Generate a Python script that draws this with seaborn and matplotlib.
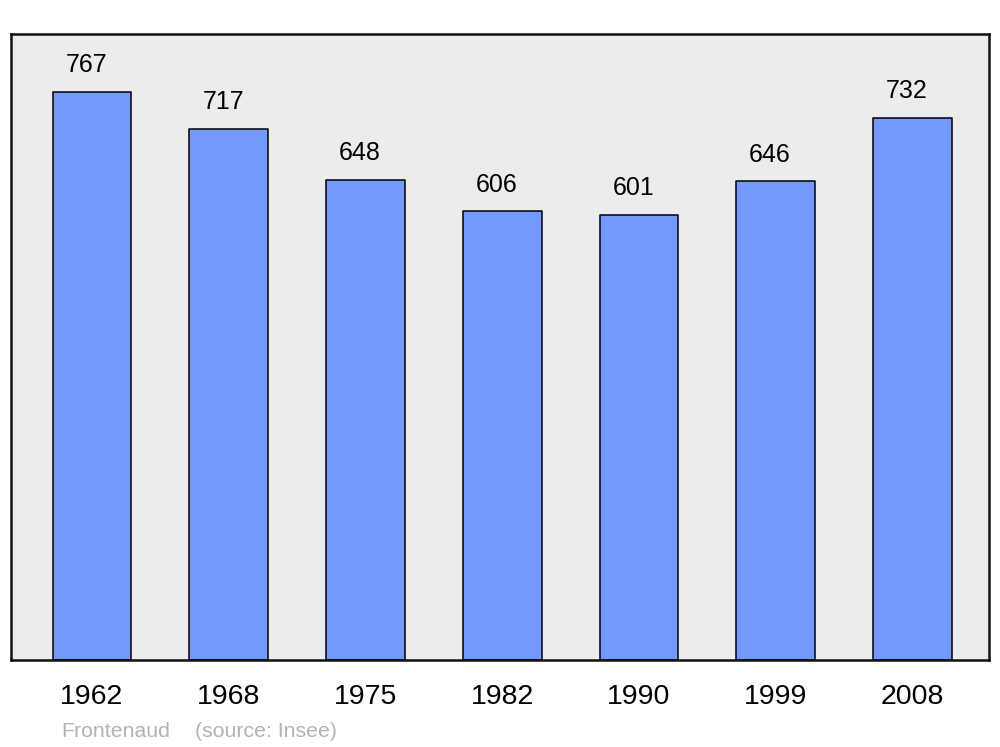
import pandas as pd
import seaborn as sns
import matplotlib.pyplot as plt

years = ['1962', '1968', '1975', '1982', '1990', '1999', '2008']
population = [767, 717, 648, 606, 601, 646, 732]
commune = 'Frontenaud'
source = '(source: Insee)'

df = pd.DataFrame({'year': years, 'pop': population})

sns.set_style('white')
plt.rcParams['font.family'] = ['Liberation Sans', 'DejaVu Sans']
plt.rcParams['text.color'] = 'black'
plt.rcParams['xtick.color'] = 'black'

fig = plt.figure(figsize=(10, 7.47), dpi=100)
ax = fig.add_axes([0.011, 0.1165, 0.978, 0.838])
ax.set_facecolor('#ececec')

sns.barplot(data=df, x='year', y='pop', color='#7399ff', saturation=1,
            width=0.575, edgecolor='black', linewidth=1.1, ax=ax)
for bar in ax.patches:
    bar.set_joinstyle('round')

# value labels above the bars
for i, v in enumerate(population):
    ax.annotate(str(v), (i, v), xytext=(-4, 14), textcoords='offset points',
                ha='center', va='baseline', fontsize=18, color='black')

ax.set_xlim(-0.592, 6.56)
ax.set_ylim(0, 845)
ax.set_yticks([])
ax.set_xlabel('')
ax.set_ylabel('')
ax.tick_params(axis='x', length=0, pad=17, labelsize=20.5, labelcolor='black')
for s in ax.spines.values():
    s.set_visible(True)
    s.set_linewidth(1.8)
    s.set_color('#111111')
    s.set_joinstyle('round')

fig.text(0.061, 1 - 737 / 747, commune, fontsize=15.3, color='#b3b3b3', va='baseline')
fig.text(0.195, 1 - 737 / 747, source, fontsize=15.3, color='#b3b3b3', va='baseline')

fig.savefig('out.png', dpi=100)
